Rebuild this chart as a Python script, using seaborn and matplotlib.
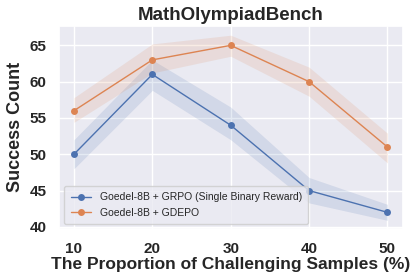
import numpy as np
import pandas as pd
import matplotlib.pyplot as plt
import seaborn as sns

# proportion of challenging samples (%)
proportion = [10, 20, 30, 40, 50]

grpo_mean = [50, 61, 54, 45, 42]
grpo_low = [48, 58.8, 52, 43.3, 40.9]
grpo_high = [52, 63, 56.5, 46.8, 43.1]

gdepo_mean = [56, 63, 65, 60, 51]
gdepo_low = [54.4, 61.2, 63.5, 58, 48.8]
gdepo_high = [57.8, 65.2, 66.4, 62, 52.9]

labels = ['Goedel-8B + GRPO (Single Binary Reward)', 'Goedel-8B + GDEPO']

sns.set_theme(style='darkgrid')
plt.rcParams['font.family'] = ['Liberation Sans', 'DejaVu Sans']
colors = sns.color_palette('deep')

df = pd.DataFrame({
    'x': proportion * 2,
    'y': grpo_mean + gdepo_mean,
    'method': [labels[0]] * 5 + [labels[1]] * 5,
})

fig, ax = plt.subplots(figsize=(4.16, 2.8), dpi=100)
sns.lineplot(data=df, x='x', y='y', hue='method', palette=colors[:2],
             marker='o', markersize=5, markeredgewidth=0, linewidth=1, ax=ax)

ax.fill_between(proportion, grpo_low, grpo_high, color=colors[0], alpha=0.15, linewidth=0)
ax.fill_between(proportion, gdepo_low, gdepo_high, color=colors[1], alpha=0.15, linewidth=0)

ax.set_xlim(8.1, 52)
ax.set_ylim(39.7, 67.7)
ax.set_xticks(proportion)
ax.set_yticks([40, 45, 50, 55, 60, 65])
ax.tick_params(labelsize=11, pad=3)
for t in ax.get_xticklabels() + ax.get_yticklabels():
    t.set_fontweight('bold')

ax.set_title('MathOlympiadBench', fontsize=13.5, fontweight='bold', pad=4)
ax.set_xlabel('The Proportion of Challenging Samples (%)', fontsize=12.5, fontweight='bold', labelpad=1)
ax.set_ylabel('Success Count', fontsize=13, fontweight='bold')

leg = ax.legend(loc='lower left', fontsize=7.5, frameon=True, borderpad=0.6)
leg.set_title(None)

plt.subplots_adjust(left=0.142, right=0.969, top=0.908, bottom=0.182)
plt.savefig('out.png', dpi=100)
